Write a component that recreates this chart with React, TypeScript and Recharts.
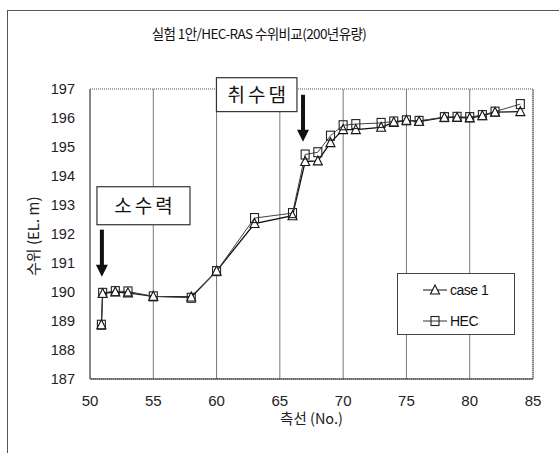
import React from 'react';
import {
  LineChart,
  Line,
  XAxis,
  YAxis,
  CartesianGrid,
  Legend,
  ReferenceArea,
  ReferenceLine,
} from 'recharts';

// 측선 번호 (cross sections)
const stations = [50.9, 51, 52, 53, 55, 58, 60, 63, 66, 67, 68, 69, 70, 71, 73, 74, 75, 76, 78, 79, 80, 81, 82, 84];
// 실험 case 1 수위
const case1 = [188.87, 189.95, 190.0, 189.97, 189.85, 189.83, 190.72, 192.36, 192.63, 194.5, 194.52, 195.15, 195.6, 195.6, 195.68, 195.85, 195.92, 195.88, 196.02, 196.02, 196.0, 196.08, 196.2, 196.22];
// HEC-RAS 수위
const hec = [188.87, 189.97, 190.03, 190.02, 189.85, 189.8, 190.72, 192.55, 192.72, 194.74, 194.82, 195.39, 195.75, 195.79, 195.83, 195.88, 195.92, 195.9, 196.03, 196.04, 196.03, 196.1, 196.22, 196.48];

const xTicks = [50, 55, 60, 65, 70, 75, 80, 85];
const yTicks = [187, 188, 189, 190, 191, 192, 193, 194, 195, 196, 197];

const data = stations.map((s, i) => ({ station: s, case1: case1[i], hec: hec[i] }));

const FONT = '"Liberation Sans", Arial, "Noto Sans CJK KR", sans-serif';
const KFONT = '"Noto Sans CJK KR", "Liberation Sans", sans-serif';

const Triangle = (props: any) => {
  const { cx, cy } = props;
  if (cx == null || cy == null) return null;
  return (
    <polygon
      points={`${cx},${cy - 5} ${cx - 4.5},${cy + 4} ${cx + 4.5},${cy + 4}`}
      fill="#fff"
      stroke="#111"
      strokeWidth={1.1}
    />
  );
};

const Square = (props: any) => {
  const { cx, cy } = props;
  if (cx == null || cy == null) return null;
  return <rect x={cx - 4} y={cy - 4.5} width={8} height={9} fill="none" stroke="#222" strokeWidth={1.1} />;
};

const Arrow = (props: any) => {
  const { x1, y1, x2, y2 } = props;
  if (x1 == null) return null;
  const top = Math.min(y1, y2);
  const tip = Math.max(y1, y2);
  return (
    <g>
      <rect x={x1 - 2} y={top} width={4} height={tip - top - 11} fill="#111" />
      <polygon points={`${x1 - 6},${tip - 12} ${x1 + 6},${tip - 12} ${x1},${tip}`} fill="#111" />
    </g>
  );
};

const BoxLabel = (text: string) => (props: any) => {
  const { x, y, width, height } = props;
  return (
    <g>
      <rect x={x} y={y} width={width} height={height} fill="#fff" stroke="#333" strokeWidth={1.2} />
      <text
        x={x + width / 2 + 1.5}
        y={y + height / 2 + 7}
        textAnchor="middle"
        fontSize={19}
        letterSpacing={3}
        fontFamily={KFONT}
        fill="#111"
      >
        {text}
      </text>
    </g>
  );
};

const LegendBox = () => (
  <div
    style={{
      width: 118,
      height: 62,
      border: '1px solid #444',
      background: '#fff',
      boxSizing: 'border-box',
      fontFamily: FONT,
      color: '#111',
    }}
  >
    <svg width={116} height={60} style={{ display: 'block' }}>
      <line x1={25} y1={16} x2={49} y2={16} stroke="#111" strokeWidth={1} />
      <Triangle cx={37} cy={16} />
      <text x={52} y={21} fontSize={14} letterSpacing={-0.5} fontFamily={FONT} fill="#111">case 1</text>
      <line x1={25} y1={47} x2={49} y2={47} stroke="#333" strokeWidth={1} />
      <Square cx={37} cy={47} />
      <text x={52} y={52} fontSize={14} letterSpacing={-0.5} fontFamily={FONT} fill="#111">HEC</text>
    </svg>
  </div>
);

export default function App() {
  return (
    <div style={{ position: 'absolute', left: 0, top: 0, width: 559, height: 455, background: '#fff' }}>
      <div
        style={{
          position: 'absolute',
          left: 7,
          top: 10,
          width: 560,
          height: 442,
          borderLeft: '1px solid #555',
          borderTop: '1px solid #555',
        }}
      />
      <div
        style={{
          position: 'absolute',
          left: 0,
          top: 23,
          width: 518,
          textAlign: 'center',
          fontFamily: KFONT,
          fontSize: 13.5,
          letterSpacing: -0.6,
          color: '#111',
        }}
      >
        실험 1안/HEC-RAS 수위비교(200년유량)
      </div>
      <LineChart
        width={559}
        height={455}
        data={data}
        margin={{ top: 89, right: 26, left: 50, bottom: 46 }}
        style={{ position: 'absolute', left: 0, top: 0 }}
      >
        <CartesianGrid horizontal={false} vertical stroke="#777" strokeWidth={1} />
        <XAxis
          dataKey="station"
          type="number"
          domain={[50, 85]}
          ticks={xTicks}
          tickLine={false}
          tickSize={0}
          tickMargin={16}
          height={30}
          axisLine={{ stroke: '#222', strokeWidth: 1.2 }}
          tick={{ fontSize: 15, fill: '#222', fontFamily: FONT }}
          label={{ value: '측선 (No.)', position: 'insideBottom', offset: -15, fontSize: 14.5, fill: '#222', fontFamily: KFONT }}
        />
        <YAxis
          type="number"
          domain={[187, 197]}
          ticks={yTicks}
          width={40}
          tickLine={false}
          tickSize={0}
          tickMargin={15}
          axisLine={{ stroke: '#555', strokeDasharray: '1 1' }}
          tick={{ fontSize: 14.5, fill: '#222', fontFamily: FONT }}
          label={{ value: '수위 (EL. m)', angle: -90, position: 'insideLeft', offset: -16, dy: 42, fontSize: 15, fill: '#222', fontFamily: KFONT }}
        />
        <ReferenceArea x1={50} x2={85} y1={187} y2={197} fill="none" stroke="#555" strokeDasharray="1 1" />
        <Line
          dataKey="case1"
          name="case 1"
          stroke="#111"
          strokeWidth={1.3}
          dot={<Triangle />}
          isAnimationActive={false}
        />
        <Line
          dataKey="hec"
          name="HEC"
          stroke="#444"
          strokeWidth={1}
          dot={<Square />}
          isAnimationActive={false}
        />
        <ReferenceArea x1={50.55} x2={57.9} y1={192.32} y2={193.63} ifOverflow="visible" shape={BoxLabel('소수력')} />
        <ReferenceArea x1={59.99} x2={66.35} y1={196.22} y2={197.39} ifOverflow="visible" shape={BoxLabel('취수댐')} />
        <ReferenceLine segment={[{ x: 50.94, y: 192.15 }, { x: 50.94, y: 190.53 }]} ifOverflow="visible" shape={Arrow} />
        <ReferenceLine segment={[{ x: 66.83, y: 196.8 }, { x: 66.83, y: 195.18 }]} ifOverflow="visible" shape={Arrow} />
        <Legend
          layout="vertical"
          align="center"
          verticalAlign="middle"
          content={<LegendBox />}
          wrapperStyle={{ position: 'absolute', left: 397, top: 273, width: 118, height: 62 }}
        />
      </LineChart>
    </div>
  );
}
